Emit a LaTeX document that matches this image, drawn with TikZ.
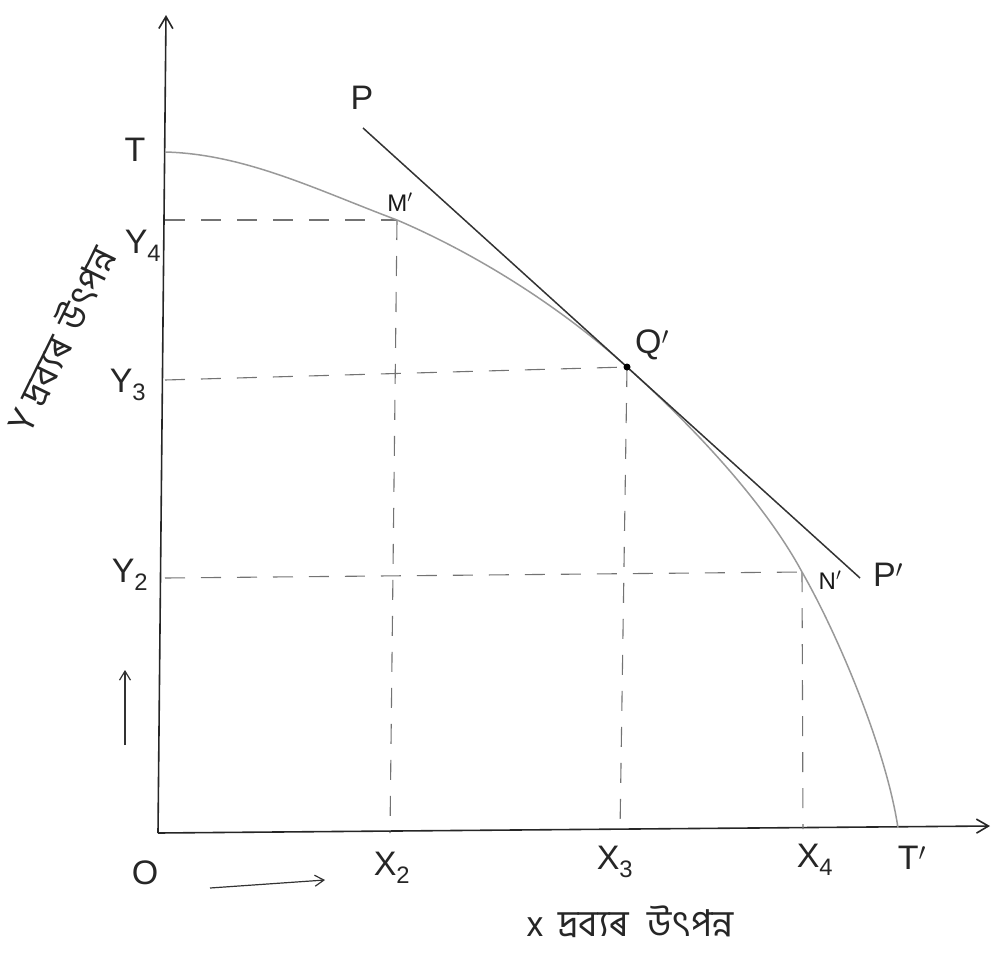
\documentclass[tikz,border=0pt]{standalone}
\usepackage{fontspec}
\setmainfont{Liberation Sans}
\newfontfamily\bnfont[Script=Bengali]{Hind Siliguri}
\usetikzlibrary{arrows.meta}
\begin{document}
\begin{tikzpicture}[x=1pt,y=-1pt,
  axis/.style={line width=1.6pt,black!85,-{Straight Barb[length=12pt,width=14pt]}},
  curve/.style={line width=1.5pt,black!40},
  tangent/.style={line width=1.5pt,black!80},
  guide/.style={line width=1.1pt,black!55,dash pattern=on 20pt off 16pt},
  lbl/.style={font=\fontsize{34}{38}\selectfont,text=black!85,inner sep=1pt},
  sml/.style={font=\fontsize{24}{28}\selectfont,text=black!90,inner sep=1pt},
  bn/.style={font=\bnfont\fontsize{37}{40}\selectfont,text=black!85,inner sep=0pt},
  dir/.style={line width=1.2pt,black!80,-{Straight Barb[length=9pt,width=11pt]}}]
\useasboundingbox (0,0) rectangle (993,961);
% key points
\coordinate (O) at (158,833);
\coordinate (Ytop) at (166,15);
\coordinate (Xend) at (990,826);
\coordinate (T) at (165,152);
\coordinate (M) at (397,220);
\coordinate (Q) at (627,367);
\coordinate (N) at (802,572);
\coordinate (Tp) at (898,828);
\coordinate (P) at (363,128);
\coordinate (Pp) at (860,578);
\coordinate (Y4) at (165,220);
\coordinate (Y3) at (165,380);
\coordinate (Y2) at (165,578);
\coordinate (X2) at (390,833);
\coordinate (X3) at (620,831);
\coordinate (X4) at (803,829);
% axes
\draw[axis] (O) -- (Ytop);
\draw[axis] (O) -- (Xend);
% guides
\draw[guide] (Y4) -- (M);
\draw[guide] (M) -- (X2);
\draw[guide] (Y3) -- (Q);
\draw[guide] (Q) -- (X3);
\draw[guide] (Y2) -- (N);
\draw[guide] (N) -- (X4);
% production possibility curve
\draw[curve] (T) .. controls (245,154) and (317,190) .. (M)
  .. controls (472,252) and (557,303.6) .. (Q)
  .. controls (687,421) and (762,498) .. (N)
  .. controls (837,633) and (886,748) .. (Tp);
% tangent
\draw[tangent] (P) -- (Pp);
\fill[black] (Q) circle (3.5pt);
% labels
\node[lbl] (lT) at (135,150) {T};
\node[lbl] (lP) at (362,98) {P};
\node[sml] (lM) at (400,202) {M$'$};
\node[lbl] (lQ) at (652,345) {Q$'$};
\node[sml] (lN) at (830,580) {N$'$};
\node[lbl] (lPp) at (888,575) {P$'$};
\node[lbl] (lY4) at (143,246) {Y\textsubscript{4}};
\node[lbl] (lY3) at (128,385) {Y\textsubscript{3}};
\node[lbl] (lY2) at (130,575) {Y\textsubscript{2}};
\node[lbl] (lO) at (145,873) {O};
\node[lbl] (lX2) at (392,868) {X\textsubscript{2}};
\node[lbl] (lX3) at (615,862) {X\textsubscript{3}};
\node[lbl] (lX4) at (815,860) {X\textsubscript{4}};
\node[lbl] (lTp) at (912,858) {T$'$};
% direction arrows
\coordinate (ax1) at (210,888);
\coordinate (ax2) at (325,880);
\draw[dir] (ax1) -- (ax2);
\coordinate (ay1) at (125,745);
\coordinate (ay2) at (125,670);
\draw[dir] (ay1) -- (ay2);
% axis titles
\node[bn,rotate=64] (ylab) at (60,340) {Y\hspace{0.25em}দ্রব্যৰ\hspace{0.35em}উৎপন্ন};
\node[bn] (xlab) at (630,922) {x\hspace{0.4em}দ্রব্যৰ\hspace{0.5em}উৎপন্ন};
\end{tikzpicture}
\end{document}
